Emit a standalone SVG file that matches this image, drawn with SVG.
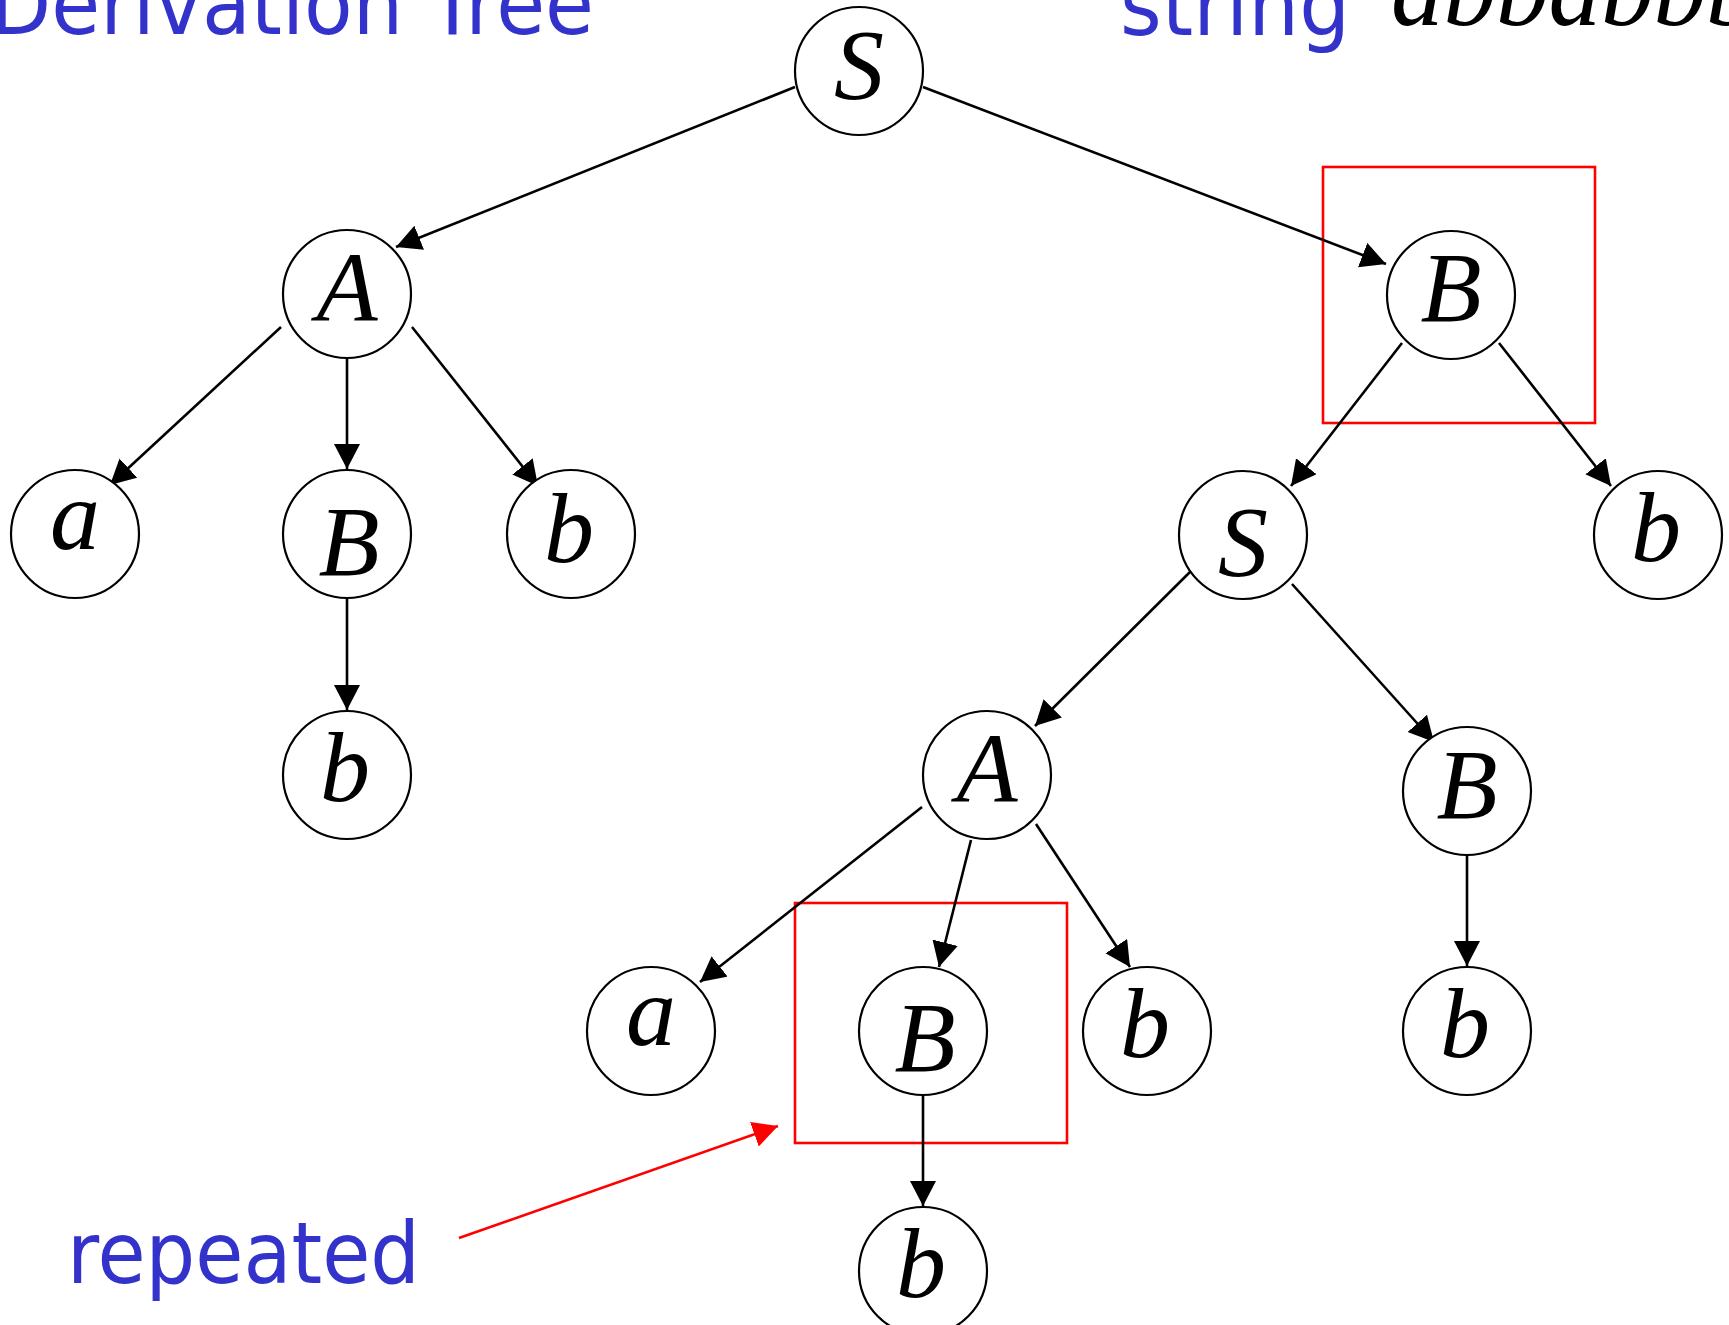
<svg xmlns="http://www.w3.org/2000/svg" width="1729" height="1325" viewBox="0 0 1729 1325">
<defs>
<style>
.node circle{fill:#fff;stroke:#000;stroke-width:2.2}
.node text{font-family:"Liberation Serif","Times New Roman",serif;font-style:italic;font-size:100px;fill:#000;text-anchor:middle}
.edge{stroke:#000;stroke-width:2.6;fill:none;marker-end:url(#ah)}
.blue{font-family:"DejaVu Sans","Noto Sans",sans-serif;fill:#3333CC;font-size:86px}
.box{fill:none;stroke:#FF0000;stroke-width:2.6}
</style>
<marker id="ah" markerUnits="userSpaceOnUse" markerWidth="27" markerHeight="27" refX="25" refY="13" orient="auto">
<path d="M0,0 L25,13 L0,26 z" fill="#000"/>
</marker>
<marker id="ahr" markerUnits="userSpaceOnUse" markerWidth="27" markerHeight="27" refX="25" refY="13" orient="auto">
<path d="M0,0 L25,13 L0,26 z" fill="#FF0000"/>
</marker>
</defs>
<rect width="1729" height="1325" fill="#fff"/>

<g id="titles">
<text class="blue" x="-10" y="34" textLength="604" lengthAdjust="spacingAndGlyphs">Derivation Tree</text>
<text class="blue" x="1120" y="35" textLength="230" lengthAdjust="spacingAndGlyphs">string</text>
<text x="1391" y="25" font-family="Liberation Serif, Times New Roman, serif" font-style="italic" font-size="105" fill="#000">abbabbbb</text>
</g>

<g id="highlights">
<rect class="box" x="1323" y="167" width="272" height="256"/>
<rect class="box" x="795" y="903" width="272" height="240"/>
</g>

<g id="connectors">
<line class="edge" x1="795" y1="87" x2="396" y2="247"/>
<line class="edge" x1="923" y1="87" x2="1386" y2="264"/>
<line class="edge" x1="281" y1="327" x2="110" y2="485"/>
<line class="edge" x1="347" y1="359" x2="347" y2="469"/>
<line class="edge" x1="412" y1="327" x2="538" y2="486"/>
<line class="edge" x1="347" y1="599" x2="347" y2="710"/>
<line class="edge" x1="1402" y1="343" x2="1291" y2="486"/>
<line class="edge" x1="1499" y1="343" x2="1611" y2="486"/>
<line class="edge" x1="1195" y1="567" x2="1035" y2="726"/>
<line class="edge" x1="1292" y1="584" x2="1434" y2="742"/>
<line class="edge" x1="922" y1="807" x2="700" y2="982"/>
<line class="edge" x1="971" y1="840" x2="939" y2="967"/>
<line class="edge" x1="1036" y1="824" x2="1130" y2="967"/>
<line class="edge" x1="1467" y1="855" x2="1467" y2="966"/>
<line class="edge" x1="923" y1="1096" x2="923" y2="1206"/>
<line x1="459" y1="1238" x2="778" y2="1126" stroke="#FF0000" stroke-width="2.6" marker-end="url(#ahr)"/>
</g>

<g id="n_S1" class="node"><circle cx="859" cy="71" r="64"/><text x="859" y="98">S</text></g>
<g id="n_A1" class="node"><circle cx="347" cy="294" r="64"/><text x="347" y="321">A</text></g>
<g id="n_B1" class="node"><circle cx="1451" cy="295" r="64"/><text x="1451" y="321">B</text></g>
<g id="n_a1" class="node"><circle cx="75" cy="534" r="64"/><text x="75" y="549">a</text></g>
<g id="n_B2" class="node"><circle cx="347" cy="534" r="64"/><text x="349" y="575">B</text></g>
<g id="n_b1" class="node"><circle cx="571" cy="534" r="64"/><text x="569" y="562">b</text></g>
<g id="n_b2" class="node"><circle cx="347" cy="775" r="64"/><text x="345" y="801">b</text></g>
<g id="n_S2" class="node"><circle cx="1243" cy="535" r="64"/><text x="1243" y="575">S</text></g>
<g id="n_b3" class="node"><circle cx="1658" cy="535" r="64"/><text x="1656" y="561">b</text></g>
<g id="n_A2" class="node"><circle cx="987" cy="775" r="64"/><text x="987" y="802">A</text></g>
<g id="n_B3" class="node"><circle cx="1467" cy="791" r="64"/><text x="1467" y="818">B</text></g>
<g id="n_a2" class="node"><circle cx="651" cy="1031" r="64"/><text x="651" y="1045">a</text></g>
<g id="n_B4" class="node"><circle cx="923" cy="1031" r="64"/><text x="925" y="1071">B</text></g>
<g id="n_b4" class="node"><circle cx="1147" cy="1031" r="64"/><text x="1145" y="1057">b</text></g>
<g id="n_b5" class="node"><circle cx="1467" cy="1031" r="64"/><text x="1465" y="1057">b</text></g>
<g id="n_b6" class="node"><circle cx="923" cy="1271" r="64"/><text x="921" y="1297">b</text></g>

<g id="label_repeated">
<text class="blue" x="67" y="1283" textLength="353" lengthAdjust="spacingAndGlyphs">repeated</text>
</g>
</svg>
